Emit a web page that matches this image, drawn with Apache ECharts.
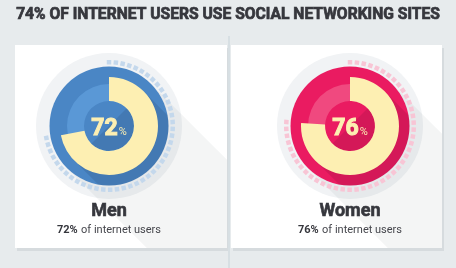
<!DOCTYPE html>
<html>
<head>
<meta charset="utf-8">
<script src="https://cdn.jsdelivr.net/npm/echarts@6/dist/echarts.min.js"></script>
<style>
  html, body { margin: 0; padding: 0; background: #e7ebed; }
  #chart { width: 456px; height: 268px; }
</style>
</head>
<body>
<div id="chart"></div>
<script>
// -- Data --
const TITLE = '74% OF INTERNET USERS USE SOCIAL NETWORKING SITES';
const groups = ['Men', 'Women'];
const shares = [72, 76];
const subLabel = 'of internet users';

// -- Look --
const PALETTES = [
  { ring: '#4a86c5', track: '#5a98d6', dash: '#c4d8ec' },
  { ring: '#ea1b61', track: '#f0497f', dash: '#f8c5d5' }
];
const YELLOW = '#fdefb2';
const INK = '#36373d';
const FONT = 'Roboto, "Open Sans", sans-serif';
const CARDS = [[15, 45, 212, 203], [231, 45, 211, 203]];
const CX = [109, 350];
const CY = 126;
const R_HALO = 73, R_DISC = 59.5, R_RING = 49, R_TRACK = 42, R_HOLE = 25, R_DASH = 66;

// fit the heading to the width it takes in the original layout
function fitSize(text, weight, family, width) {
  const ctx = document.createElement('canvas').getContext('2d');
  ctx.font = weight + ' 20px ' + family;
  return Math.min(17, 20 * width / ctx.measureText(text).width);
}

// Sutherland–Hodgman clip against a convex polygon (screen coords, clockwise)
function clipPoly(subject, clip) {
  let out = subject;
  for (let i = 0; i < clip.length; i++) {
    const a = clip[i], b = clip[(i + 1) % clip.length];
    const side = p => (b[0] - a[0]) * (p[1] - a[1]) - (b[1] - a[1]) * (p[0] - a[0]);
    const input = out; out = [];
    for (let j = 0; j < input.length; j++) {
      const p = input[j], q = input[(j + 1) % input.length];
      const sp = side(p), sq = side(q);
      const cut = () => { const t = sp / (sp - sq); return [p[0] + t * (q[0] - p[0]), p[1] + t * (q[1] - p[1])]; };
      if (sp >= 0) { out.push(p); if (sq < 0) out.push(cut()); }
      else if (sq >= 0) out.push(cut());
    }
  }
  return out;
}

function circlePoly(cx, cy, r, n = 90) {
  const pts = [];
  for (let i = 0; i < n; i++) {
    const a = i / n * Math.PI * 2;
    pts.push([cx + r * Math.cos(a), cy + r * Math.sin(a)]);
  }
  return pts;
}

// long shadow band toward bottom-right
function band(cx, cy, halfW, len) {
  const k = Math.SQRT1_2;
  const v = [k * halfW, -k * halfW], u = [k * len, k * len];
  return [
    [cx + v[0], cy + v[1]],
    [cx + v[0] + u[0], cy + v[1] + u[1]],
    [cx - v[0] + u[0], cy - v[1] + u[1]],
    [cx - v[0], cy - v[1]]
  ];
}

const chart = echarts.init(document.getElementById('chart'), null, { renderer: 'canvas' });

const graphics = [];
graphics.push({
  type: 'text', z: 20, x: 228, y: 15,
  style: {
    text: TITLE, align: 'center', verticalAlign: 'middle',
    fontFamily: FONT, fontWeight: 'bold', fontSize: fitSize(TITLE, 'bold', 'Roboto', 424),
    fill: INK, stroke: INK, lineWidth: 0.7
  }
});
CARDS.forEach(([x, y, w, h]) => {
  graphics.push({ type: 'rect', z: 1, shape: { x: x + 2, y: y + 3, width: w, height: h }, style: { fill: '#d6dbde' } });
  graphics.push({ type: 'rect', z: 2, shape: { x, y, width: w, height: h }, style: { fill: '#ffffff' } });
});
graphics.push({ type: 'line', z: 1, shape: { x1: 229, y1: 36, x2: 229, y2: 268 }, style: { stroke: '#d7dfe3', lineWidth: 2 } });

groups.forEach((g, i) => {
  const cx = CX[i];
  const card = CARDS[i];
  const rect = [[card[0], card[1]], [card[0] + card[2], card[1]], [card[0] + card[2], card[1] + card[3]], [card[0], card[1] + card[3]]];
  graphics.push({ type: 'circle', z: 3, shape: { cx, cy: CY, r: R_HALO }, style: { fill: '#f1f3f5' } });
  graphics.push({ type: 'polygon', z: 4, shape: { points: clipPoly(band(cx, CY, R_DISC, 300), rect) }, style: { fill: 'rgba(40,50,60,0.05)' } });
  graphics.push({ type: 'circle', z: 5, shape: { cx, cy: CY, r: R_DISC }, style: { fill: PALETTES[i].ring } });
  graphics.push({ type: 'polygon', z: 6, shape: { points: clipPoly(band(cx, CY, R_RING, 200), circlePoly(cx, CY, R_DISC)) }, style: { fill: 'rgba(0,0,0,0.09)' } });
  graphics.push({
    type: 'text', z: 20, x: cx, y: 129,
    style: {
      text: '{a|' + shares[i] + '}{b|%}', align: 'center', verticalAlign: 'middle',
      rich: {
        a: { fontFamily: FONT, fontWeight: 'bold', fontSize: 23, lineHeight: 23, fill: YELLOW, stroke: YELLOW, lineWidth: 1, verticalAlign: 'bottom' },
        b: { fontFamily: FONT, fontSize: 11, lineHeight: 11, fill: YELLOW, verticalAlign: 'bottom', padding: [0, 0, 3, 1] }
      }
    }
  });
  graphics.push({
    type: 'text', z: 20, x: cx, y: 211,
    style: { text: g, align: 'center', verticalAlign: 'middle', fontFamily: FONT, fontWeight: 'bold', fontSize: 18, fill: INK, stroke: INK, lineWidth: 0.6 }
  });
  graphics.push({
    type: 'text', z: 20, x: cx, y: 230,
    style: {
      text: '{b|' + shares[i] + '%} {n|' + subLabel + '}', align: 'center', verticalAlign: 'middle',
      rich: {
        b: { fontFamily: FONT, fontWeight: 'bold', fontSize: 11, fill: INK },
        n: { fontFamily: FONT, fontSize: 11, fill: '#45464c' }
      }
    }
  });
});

const series = [];
groups.forEach((g, i) => {
  const center = [CX[i], CY];
  series.push({
    type: 'pie', z: 10, silent: true, center, radius: [R_HOLE, R_TRACK],
    label: { show: false }, labelLine: { show: false },
    data: [{ value: 1, itemStyle: { color: PALETTES[i].track } }]
  });
  series.push({
    type: 'pie', z: 11, silent: true, center, radius: [R_HOLE, R_RING], startAngle: 90, clockwise: true,
    label: { show: false }, labelLine: { show: false },
    data: [
      { value: shares[i], itemStyle: { color: YELLOW } },
      { value: 100 - shares[i], itemStyle: { color: 'transparent' } }
    ]
  });
  // dashed progress ticks around the disc, same share as the ring
  series.push({
    type: 'gauge', z: 11, silent: true, center, radius: R_DASH,
    startAngle: 90, endAngle: 90 - 3.6 * shares[i], min: 0, max: shares[i],
    splitNumber: Math.round(3.6 * shares[i] / 6.2),
    axisLine: { show: false, lineStyle: { width: 0 } },
    splitLine: { show: true, distance: 0, length: 4.5, lineStyle: { color: PALETTES[i].dash, width: 4.5, cap: 'butt' } },
    axisTick: { show: false }, axisLabel: { show: false },
    pointer: { show: false }, title: { show: false }, detail: { show: false },
    data: [{ value: shares[i] }]
  });
});

chart.setOption({
  backgroundColor: '#e7ebed',
  animation: false,
  graphic: graphics,
  series
});
</script>
</body>
</html>
